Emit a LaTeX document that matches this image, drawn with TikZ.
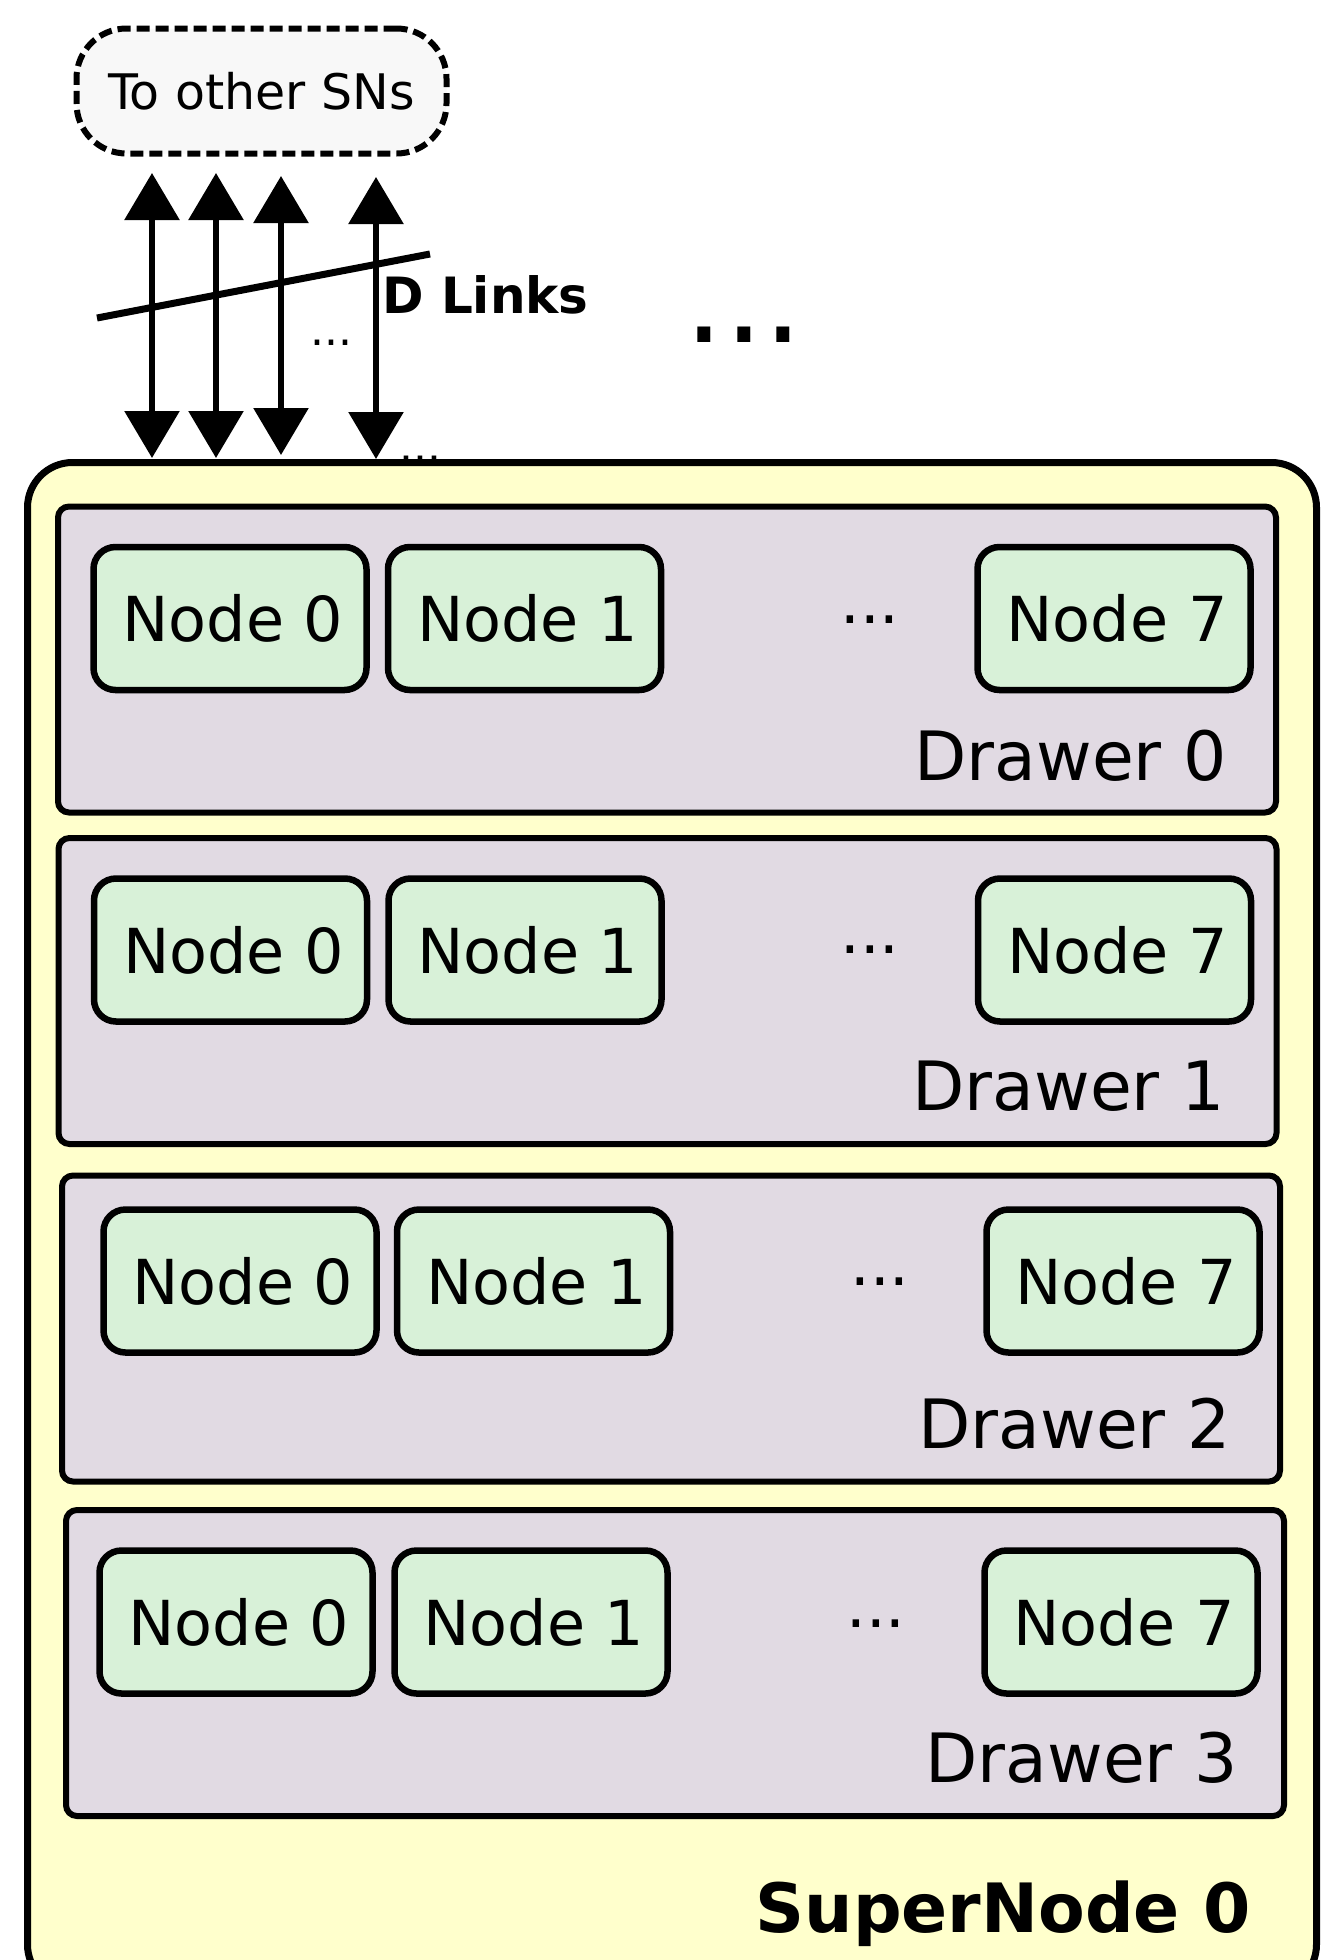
\documentclass[tikz,border=0pt]{standalone}
\usepackage{fontspec}
\setmainfont{DejaVu Sans}
\usetikzlibrary{arrows.meta}

\definecolor{snfill}{RGB}{255,255,204}
\definecolor{drawerfill}{RGB}{225,218,227}
\definecolor{nodefill}{RGB}{216,241,216}
\definecolor{cloudfill}{RGB}{248,248,248}

\tikzset{
  snbox/.style={draw, line width=7pt, fill=snfill, rounded corners=45pt,
    inner sep=0pt, minimum width=1289pt, minimum height=1527pt},
  drawerbox/.style={draw, line width=6pt, fill=drawerfill, rounded corners=11pt,
    inner sep=0pt, minimum width=1218pt, minimum height=306pt},
  cpubox/.style={draw, line width=6.5pt, fill=nodefill, rounded corners=22pt,
    minimum width=273pt, minimum height=143pt, inner sep=0pt,
    font=\fontsize{62}{70}\selectfont},
  cloudbox/.style={draw, dash pattern=on 13pt off 6pt, line width=6pt,
    fill=cloudfill, rounded corners=50pt, minimum width=370pt,
    minimum height=125pt, inner sep=0pt, font=\fontsize{49}{56}\selectfont},
  link/.style={line width=6pt,
    {Triangle[length=47pt,width=54pt]}-{Triangle[length=47pt,width=54pt]}},
  slash/.style={line width=7pt},
  drawerlabel/.style={anchor=base east, inner sep=0pt, font=\fontsize{68}{76}\selectfont},
  gapdots/.style={anchor=base, inner sep=0pt, font=\fontsize{62}{70}\selectfont},
  smalldots/.style={anchor=base, inner sep=0pt, font=\fontsize{44}{50}\selectfont},
}

\begin{document}
\begin{tikzpicture}[x=1pt, y=-1pt]
  \useasboundingbox (0,0) rectangle (1342,1960);
  \clip (0,0) rectangle (1342,1960);

  % group of other supernodes
  \node[cloudbox] (others) at (261.5,91) {To other SNs};

  % link end points
  \coordinate (up1) at (152,173);
  \coordinate (up2) at (216,173);
  \coordinate (up3) at (281,176);
  \coordinate (up4) at (376,177);
  \coordinate (dn1) at (152,458);
  \coordinate (dn2) at (216,458);
  \coordinate (dn3) at (281,455);
  \coordinate (dn4) at (376,459);

  % dots that continue the row of links, partly under the supernode
  \node[smalldots] (moredn) at (420,461) {...};

  % supernode
  \node[snbox] (sn) at (672,1226) {};

  % links
  \draw[link] (dn1) -- (up1);
  \draw[link] (dn2) -- (up2);
  \draw[link] (dn3) -- (up3);
  \draw[link] (dn4) -- (up4);

  % bundle mark across the links
  \coordinate (sl1) at (97,318);
  \coordinate (sl2) at (430,254);
  \draw[slash] (sl1) -- (sl2);

  \node[anchor=base west, inner sep=0pt, font=\bfseries\fontsize{50}{58}\selectfont]
    (dlinks) at (382,313) {D Links};
  \node[smalldots] (linkdots) at (331,345) {...};
  \node[anchor=base, inner sep=0pt, font=\fontsize{125}{130}\selectfont]
    (sndots) at (744,342) {...};

  % drawers with their nodes
  \foreach \i/\dx/\dy/\ny/\xa/\xb/\xc/\px/\py/\lx/\ly in {
      0/667/659.5/618.5/230/524.5/1114/870/623/1227/780,
      1/667.5/991/950/230.5/525/1114.5/870/953/1225/1110,
      2/671/1328.5/1281/240/533.5/1123/880/1285/1231/1448,
      3/675/1663/1622/236/531/1121/876/1627/1238/1782} {
    \node[drawerbox] (dr\i) at (\dx,\dy) {};
    \node[cpubox] (n\i-0) at (\xa,\ny) {\hspace*{6pt}Node 0};
    \node[cpubox] (n\i-1) at (\xb,\ny) {\hspace*{6pt}Node 1};
    \node[cpubox] (n\i-7) at (\xc,\ny) {\hspace*{6pt}Node 7};
    \node[gapdots] (gap\i) at (\px,\py) {...};
    \node[drawerlabel] (lab\i) at (\lx,\ly) {Drawer \i};
  }

  \node[anchor=base east, inner sep=0pt, font=\bfseries\fontsize{68}{80}\selectfont]
    (snlabel) at (1251,1932) {SuperNode 0};
\end{tikzpicture}
\end{document}
